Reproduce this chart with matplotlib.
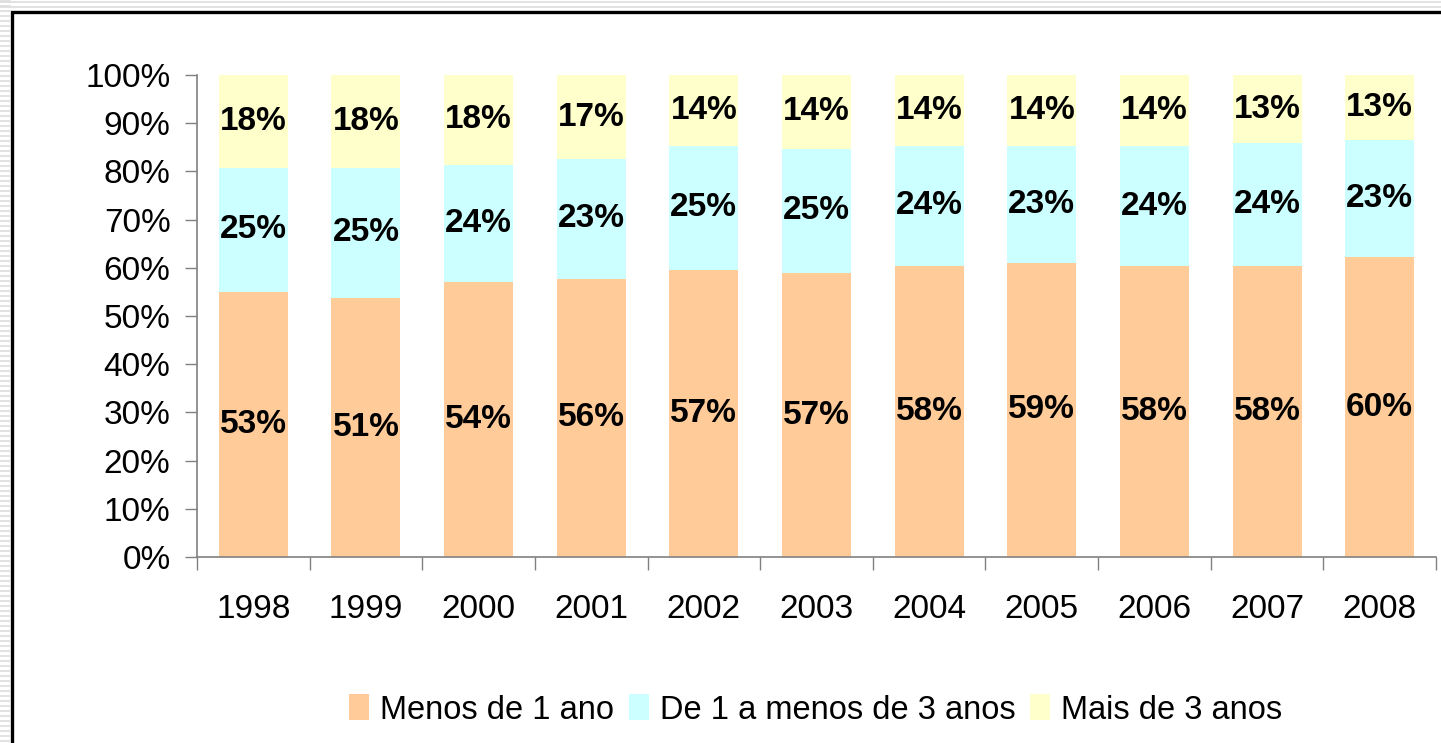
import matplotlib
matplotlib.use("Agg")
import matplotlib.pyplot as plt
from matplotlib.patches import Rectangle
import numpy as np

plt.rcParams['font.family'] = ['Liberation Sans', 'DejaVu Sans']

years = ['1998', '1999', '2000', '2001', '2002', '2003', '2004', '2005', '2006', '2007', '2008']
# data labels printed on the bars (%)
label_menos_1 = [53, 51, 54, 56, 57, 57, 58, 59, 58, 58, 60]
label_de_1_a_3 = [25, 25, 24, 23, 25, 25, 24, 23, 24, 24, 23]
label_mais_3 = [18, 18, 18, 17, 14, 14, 14, 14, 14, 13, 13]
# segment heights as drawn (share of each 100% bar)
share_menos_1 = [54.98, 53.73, 57.05, 57.68, 59.54, 58.92, 60.37, 61.00, 60.37, 60.37, 62.24]
share_de_1_a_3 = [25.73, 26.98, 24.28, 24.89, 25.79, 25.73, 24.96, 24.27, 24.90, 25.52, 24.27]
share_mais_3 = [19.29, 19.29, 18.67, 17.43, 14.67, 15.35, 14.67, 14.73, 14.73, 14.11, 13.49]
series_names = ['Menos de 1 ano', 'De 1 a menos de 3 anos', 'Mais de 3 anos']
colors = ['#FFCC99', '#CCFFFF', '#FFFFCC']

W, H = 1441, 743
fig = plt.figure(figsize=(W / 100, H / 100), dpi=100)
fig.patch.set_facecolor('white')

# background decoration axes in pixel coordinates (y downward)
bg = fig.add_axes([0, 0, 1, 1], zorder=-5)
bg.set_xlim(0, W)
bg.set_ylim(H, 0)
bg.axis('off')
for yy in range(1, H, 5):
    bg.plot([0, 10], [yy, yy], color='#DDDDDD', lw=1.2)
for yy in (2, 7):
    bg.plot([0, W], [yy, yy], color='#DDDDDD', lw=1.2)
bg.add_patch(Rectangle((11.5, 11.5), W + 50, H + 50, facecolor='white', edgecolor='black', lw=2.4))

ax = fig.add_axes([197 / W, 1 - 557 / H, (1436 - 197) / W, (557 - 75) / H])
ax.set_facecolor('none')

shares = np.array([share_menos_1, share_de_1_a_3, share_mais_3], dtype=float)
shares = shares / shares.sum(axis=0) * 100
labels = [label_menos_1, label_de_1_a_3, label_mais_3]
x = np.arange(len(years))
bottom = np.zeros(len(years))
for i in range(3):
    ax.bar(x, shares[i], 0.613, bottom=bottom, color=colors[i], label=series_names[i], zorder=2)
    for j in range(len(years)):
        ax.text(x[j], bottom[j] + shares[i][j] / 2, f"{labels[i][j]}%", ha='center', va='center',
                fontsize=24, fontweight='bold', color='black', zorder=3)
    bottom += shares[i]

ax.set_xlim(-0.5, len(years) - 0.5)
ax.set_ylim(0, 100)
ax.set_yticks(np.arange(0, 101, 10))
ax.set_yticklabels([f"{v}%" for v in range(0, 101, 10)], fontsize=24)
ax.set_xticks(x)
ax.set_xticklabels(years, fontsize=24)
ax.set_xticks(np.arange(-0.5, len(years), 1), minor=True)
ax.tick_params(axis='x', which='major', length=0, pad=27)
ax.tick_params(axis='x', which='minor', length=9, width=1, color='#808080', direction='out')
ax.tick_params(axis='y', length=9, width=1, color='#808080', direction='out', pad=10)
for s in ['top', 'right']:
    ax.spines[s].set_visible(False)
for s in ['left', 'bottom']:
    ax.spines[s].set_color('#808080')
    ax.spines[s].set_linewidth(1.2)

leg = fig.legend(loc='center', bbox_to_anchor=(816 / W, 1 - 710 / H), ncol=3, frameon=False,
                 fontsize=23.5, handlelength=0.6, handleheight=0.85, handletextpad=0.35,
                 columnspacing=0.45)

fig.savefig('out.png', dpi=100)
